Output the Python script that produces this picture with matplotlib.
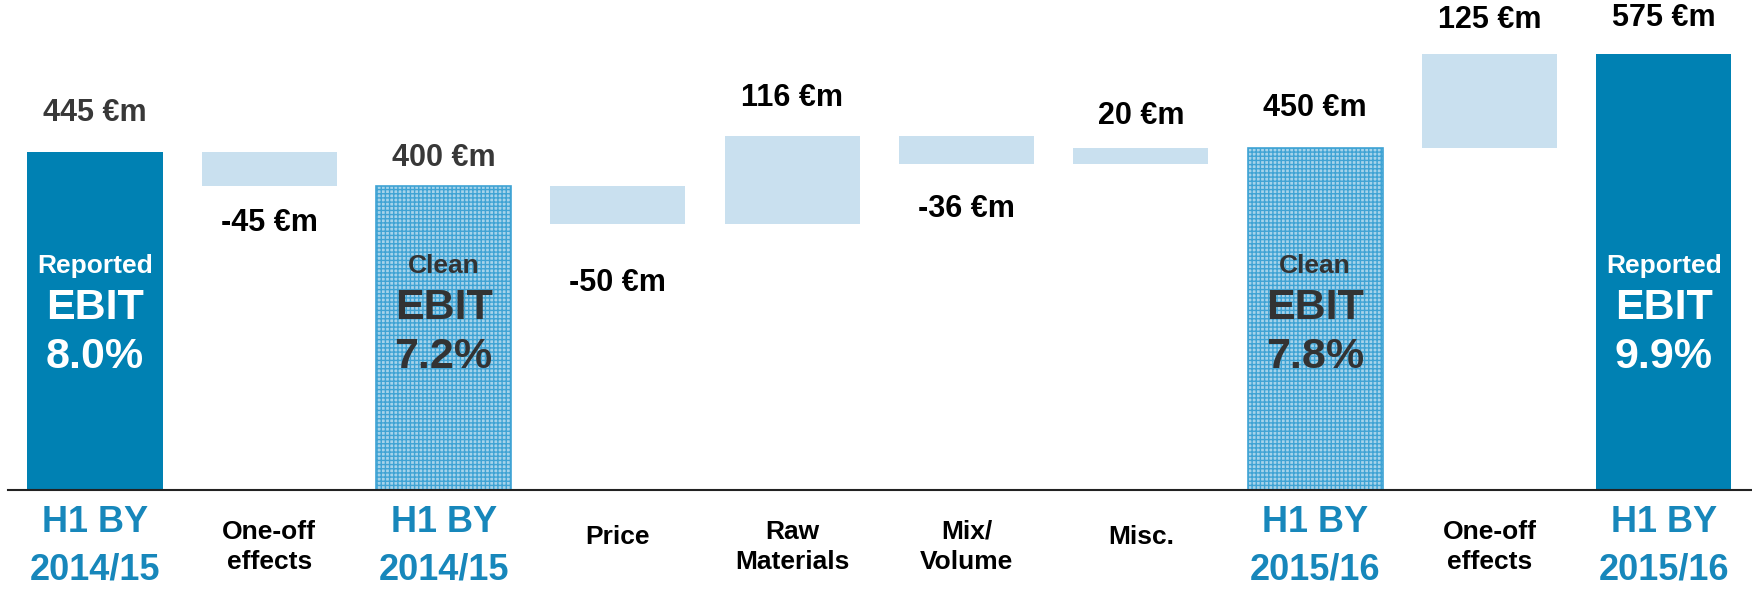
import matplotlib
matplotlib.use("Agg")
import matplotlib.pyplot as plt

plt.rcParams['font.family'] = ['Liberation Sans', 'DejaVu Sans']
plt.rcParams['hatch.linewidth'] = 1.0

categories = ["H1 BY\n2014/15", "One-off\neffects", "H1 BY\n2014/15", "Price", "Raw\nMaterials",
              "Mix/\nVolume", "Misc.", "H1 BY\n2015/16", "One-off\neffects", "H1 BY\n2015/16"]
values = [445, -45, 400, -50, 116, -36, 20, 450, 125, 575]
kinds = ["reported", "delta", "clean", "delta", "delta", "delta", "delta", "clean", "delta", "reported"]
inner_top = ["Reported", "", "Clean", "", "", "", "", "Clean", "", "Reported"]
inner_pct = ["8.0%", "", "7.2%", "", "", "", "", "7.8%", "", "9.9%"]

# label gap from bar edge (pixels) -- layout only
label_gap_px = [39, 37, 28, 59, 38, 45, 32, 40, 34, 36]

DARK = "#0081b3"
LIGHT = "#c9e0ef"
HATCH_BLUE = "#3fa3d4"
CAT_BLUE = "#1787bb"

W, H, DPI = 1752, 596, 100
fig = plt.figure(figsize=(W / DPI, H / DPI), dpi=DPI)
ax = fig.add_axes([0, 0, 1, 1])
ppu = 0.759  # pixels per unit
base_px = 106
ax.set_ylim(-base_px / ppu, (H - base_px) / ppu)
step = 174.3
x0 = 95
ax.set_xlim(-x0 / step, (W - x0) / step)
ax.axis("off")


def ypx(px_from_top):
    return (H - px_from_top - base_px) / ppu


bw = 135 / step
running = 0
for i, (v, k) in enumerate(zip(values, kinds)):
    gap = label_gap_px[i] / ppu
    if k == "delta":
        bottom = running if v >= 0 else running + v
        ax.bar(i, abs(v), bottom=bottom, width=bw, color=LIGHT, linewidth=0, zorder=2)
        ty = running + v + gap if v >= 0 else running + v - gap
        running += v
        col = "black"
    else:
        running = v
        if k == "reported":
            ax.bar(i, v, width=bw, color=DARK, linewidth=0, zorder=2)
            tcol = "white"
        else:
            ax.bar(i, v, width=bw, facecolor="#a6d3ea", edgecolor=HATCH_BLUE,
                   hatch="++++", linewidth=1.2, zorder=2)
            tcol = "#333333"
        col = "#383838" if i in (0, 2) else "black"
        ty = v + gap
        ax.text(i, ypx(266), inner_top[i], ha="center", va="center", fontsize=19,
                fontweight="bold", color=tcol, zorder=3)
        ax.text(i, ypx(308), "EBIT", ha="center", va="center",
                fontsize=31, fontweight="bold", color=tcol, zorder=3)
        ax.text(i, ypx(357), inner_pct[i], ha="center", va="center",
                fontsize=31, fontweight="bold", color=tcol, zorder=3)
    ax.text(i, ty, f"{v} €m", ha="center", va="center", fontsize=22,
            fontweight="bold", color=col, zorder=3)

    if k == "delta":
        multi = "\n" in categories[i]
        ax.text(i, ypx(547 if multi else 537), categories[i], ha="center", va="center",
                fontsize=19, fontweight="bold", color="black", linespacing=1.35)
    else:
        ax.text(i, ypx(546), categories[i], ha="center", va="center", fontsize=26,
                fontweight="bold", color=CAT_BLUE, linespacing=1.45)

ax.axhline(0, xmin=8 / W, xmax=1, color="#222222", linewidth=1.5, zorder=4)

fig.savefig("out.png", dpi=DPI)
